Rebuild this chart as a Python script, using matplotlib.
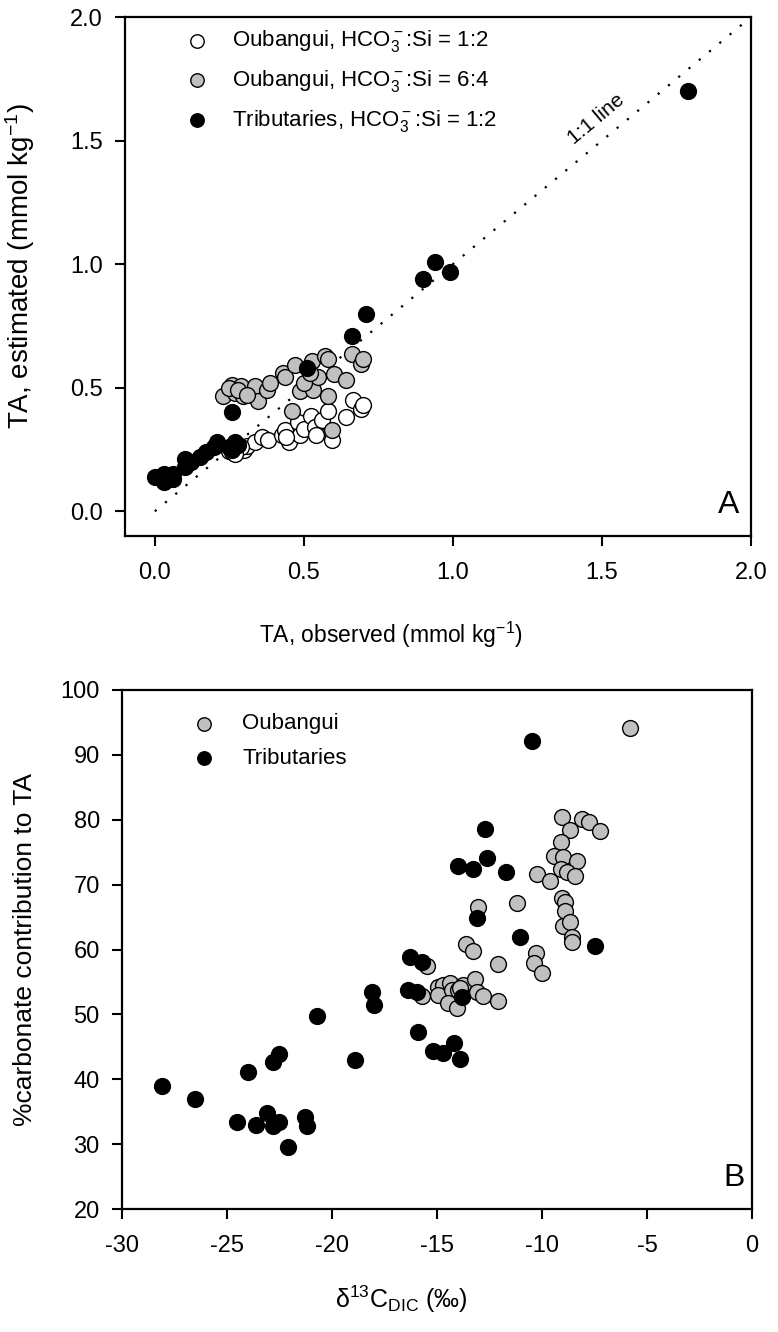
import matplotlib as mpl
mpl.use('Agg')
import matplotlib.pyplot as plt

plt.rcParams['font.family'] = ['Liberation Sans', 'DejaVu Sans']
plt.rcParams['mathtext.fontset'] = 'custom'
plt.rcParams['mathtext.rm'] = 'Liberation Sans'
plt.rcParams['mathtext.it'] = 'Liberation Sans:italic'
plt.rcParams['mathtext.bf'] = 'Liberation Sans:bold'
plt.rcParams['axes.unicode_minus'] = False

# panel A: TA observed vs estimated (mmol/kg)
ta_obs_oub_12 = [0.25, 0.26, 0.28, 0.30, 0.31, 0.335, 0.36, 0.38, 0.425, 0.435, 0.45, 0.48, 0.487,
                 0.50, 0.525, 0.537, 0.56, 0.58, 0.595, 0.64, 0.665, 0.69, 0.70, 0.29, 0.27, 0.44, 0.54]
ta_est_oub_12 = [0.245, 0.24, 0.255, 0.25, 0.265, 0.28, 0.30, 0.29, 0.31, 0.33, 0.28, 0.36, 0.31,
                 0.335, 0.385, 0.34, 0.37, 0.405, 0.29, 0.38, 0.45, 0.415, 0.43, 0.26, 0.23, 0.30, 0.31]

ta_obs_oub_64 = [0.23, 0.26, 0.27, 0.29, 0.295, 0.335, 0.345, 0.375, 0.385, 0.43, 0.435, 0.47, 0.487,
                 0.527, 0.53, 0.547, 0.57, 0.58, 0.58, 0.60, 0.64, 0.66, 0.69, 0.70, 0.46, 0.595,
                 0.25, 0.28, 0.31, 0.50, 0.52]
ta_est_oub_64 = [0.465, 0.51, 0.48, 0.505, 0.465, 0.505, 0.445, 0.49, 0.52, 0.56, 0.545, 0.59, 0.485,
                 0.61, 0.49, 0.545, 0.63, 0.615, 0.465, 0.555, 0.53, 0.635, 0.595, 0.615, 0.405, 0.33,
                 0.50, 0.49, 0.47, 0.52, 0.56]

ta_obs_trib = [0.00, 0.03, 0.03, 0.06, 0.06, 0.10, 0.10, 0.12, 0.15, 0.17, 0.20, 0.21, 0.25, 0.26,
               0.27, 0.28, 0.26, 0.51, 0.66, 0.71, 0.90, 0.94, 0.99, 1.79]
ta_est_trib = [0.14, 0.15, 0.12, 0.13, 0.15, 0.21, 0.18, 0.20, 0.22, 0.24, 0.26, 0.28, 0.26, 0.25,
               0.28, 0.27, 0.40, 0.58, 0.71, 0.80, 0.94, 1.01, 0.97, 1.70]

# panel B: d13C-DIC vs % carbonate contribution
d13c_oub = [-5.8, -9.05, -8.1, -7.76, -7.24, -8.67, -9.1, -9.43, -9.0, -8.33, -9.1, -8.8, -8.43,
            -10.24, -9.62, -9.05, -8.9, -8.9, -9.0, -8.67, -8.57, -8.57, -11.2, -13.05, -13.6,
            -13.3, -10.3, -12.1, -10.4, -10.0, -15.5, -14.95, -14.7, -14.95, -14.4, -14.3, -14.0,
            -13.76, -13.2, -13.1, -12.8, -12.1, -14.5, -14.05, -15.7, -13.9]
pct_oub = [94.1, 80.4, 80.1, 79.6, 78.2, 78.4, 76.5, 74.4, 74.2, 73.6, 72.4, 71.9, 71.3,
           71.6, 70.5, 67.9, 67.4, 65.9, 63.7, 64.2, 62.0, 61.1, 67.1, 66.5, 60.9,
           59.7, 59.5, 57.7, 57.9, 56.4, 57.5, 54.3, 54.6, 53.0, 54.9, 53.8, 53.8,
           54.6, 55.4, 53.4, 52.9, 52.0, 51.8, 51.0, 52.8, 54.0]

d13c_trib = [-28.1, -26.5, -24.5, -24.0, -23.6, -23.1, -22.8, -22.8, -22.5, -22.5, -22.1, -21.3,
             -21.2, -20.7, -18.9, -18.1, -18.0, -16.4, -16.3, -15.95, -15.9, -15.7, -15.2, -14.7,
             -14.2, -13.9, -13.8, -14.0, -13.3, -13.1, -12.7, -12.6, -11.7, -11.05, -10.5, -7.48]
pct_trib = [39.0, 37.0, 33.4, 41.2, 33.0, 34.8, 32.8, 42.7, 43.9, 33.4, 29.6, 34.2,
            32.8, 49.8, 42.9, 53.4, 51.4, 53.8, 58.9, 53.4, 47.3, 58.0, 44.4, 44.1,
            45.6, 43.2, 52.7, 72.8, 72.4, 64.9, 78.6, 74.1, 72.0, 62.0, 92.1, 60.5]

ticks_a = [0.0, 0.5, 1.0, 1.5, 2.0]
ticks_bx = [-30, -25, -20, -15, -10, -5, 0]
ticks_by = [20, 30, 40, 50, 60, 70, 80, 90, 100]

GRAY = '#c0c0c0'
MS = 130
TICKFS = 17


def style_axes(ax):
    for s in ax.spines.values():
        s.set_linewidth(1.6)
    ax.tick_params(direction='out', length=7, width=1.5, labelsize=TICKFS, top=False, right=False)
    ax.tick_params(axis='x', pad=12)
    ax.tick_params(axis='y', pad=9)


fig = plt.figure(figsize=(7.78, 13.32), dpi=100)

# ---- panel A
axA = fig.add_axes([0.1607, 0.5976, 0.8046, 0.3896])
axA.plot([0, 2], [0, 2], color='black', linestyle=(0, (1, 5)), linewidth=1.6, zorder=1)
axA.scatter(ta_obs_oub_12, ta_est_oub_12, s=MS, facecolor='white', edgecolor='black', linewidth=1.0,
            label=r'Oubangui, HCO$_3^-$:Si = 1:2', zorder=2)
axA.scatter(ta_obs_oub_64, ta_est_oub_64, s=MS, facecolor=GRAY, edgecolor='black', linewidth=1.0,
            label=r'Oubangui, HCO$_3^-$:Si = 6:4', zorder=3)
axA.scatter(ta_obs_trib, ta_est_trib, s=MS, facecolor='black', edgecolor='black', linewidth=1.0,
            label=r'Tributaries, HCO$_3^-$:Si = 1:2', zorder=4)
axA.set_xlim(-0.1, 2.0)
axA.set_ylim(-0.1, 2.0)
axA.set_xticks(ticks_a)
axA.set_yticks(ticks_a)
axA.set_xticklabels(['%.1f' % t for t in ticks_a])
axA.set_yticklabels(['%.1f' % t for t in ticks_a])
style_axes(axA)
axA.set_xlabel(r'TA, observed (mmol kg$^{-1}$)', fontsize=16.5)
axA.set_ylabel(r'TA, estimated (mmol kg$^{-1}$)', fontsize=20)
axA.xaxis.set_label_coords(0.425, -0.162)
axA.yaxis.set_label_coords(-0.14, 0.52)
axA.text(1.48, 1.585, '1:1 line', rotation=40, fontsize=15, ha='center', va='center')
axA.text(0.982, 0.03, 'A', transform=axA.transAxes, fontsize=23, ha='right', va='bottom')
axA.legend(loc='upper left', bbox_to_anchor=(0.097, 0.978), frameon=False, fontsize=16,
           handlelength=1.0, handletextpad=1.1, labelspacing=0.62, borderpad=0, borderaxespad=0,
           markerscale=0.85)

# ---- panel B
axB = fig.add_axes([0.1568, 0.0923, 0.8098, 0.3897])
axB.scatter(d13c_oub, pct_oub, s=MS, facecolor=GRAY, edgecolor='black', linewidth=1.0,
            label='Oubangui', zorder=2)
axB.scatter(d13c_trib, pct_trib, s=MS, facecolor='black', edgecolor='black', linewidth=1.0,
            label='Tributaries', zorder=3)
axB.set_xlim(-30, 0)
axB.set_ylim(20, 100)
axB.set_xticks(ticks_bx)
axB.set_yticks(ticks_by)
style_axes(axB)
axB.set_xlabel('δ$^{13}$C$_{\\rm DIC}$ (‰)', fontsize=18)
axB.set_ylabel('%carbonate contribution to TA', fontsize=19)
axB.xaxis.set_label_coords(0.443, -0.143)
axB.yaxis.set_label_coords(-0.135, 0.5)
axB.text(0.989, 0.03, 'B', transform=axB.transAxes, fontsize=23, ha='right', va='bottom')
axB.legend(loc='upper left', bbox_to_anchor=(0.113, 0.955), frameon=False, fontsize=16,
           handlelength=1.0, handletextpad=1.2, labelspacing=0.62, borderpad=0, borderaxespad=0,
           markerscale=0.85)

fig.savefig('out.png', dpi=100)
